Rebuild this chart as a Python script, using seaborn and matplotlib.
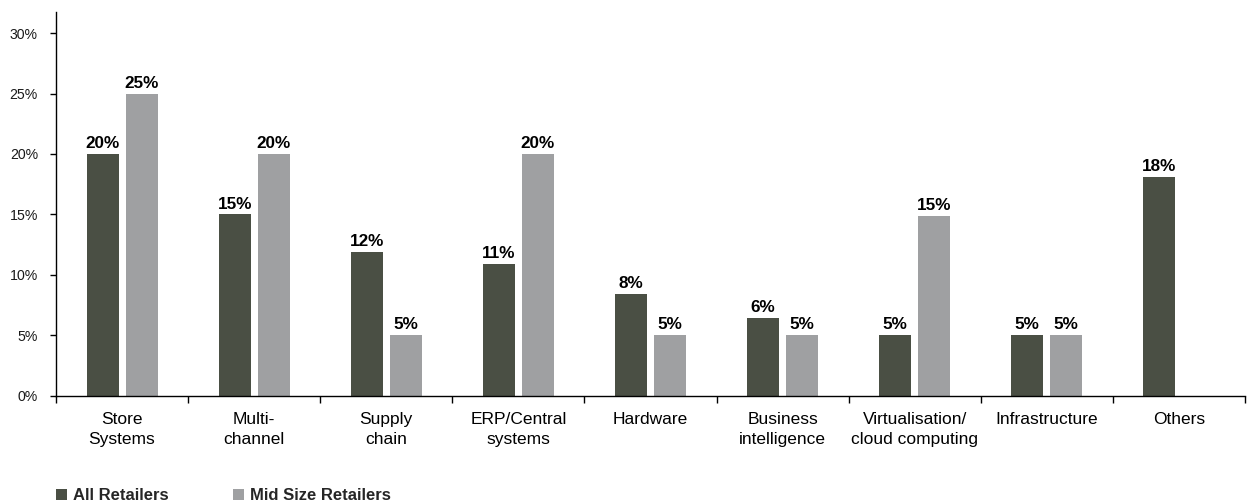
import numpy as np
import pandas as pd
import matplotlib
matplotlib.use("Agg")
import matplotlib.pyplot as plt
import seaborn as sns
from matplotlib.patches import Patch

categories = ["Store\nSystems", "Multi-\nchannel", "Supply\nchain", "ERP/Central\nsystems",
              "Hardware", "Business\nintelligence", "Virtualisation/\ncloud computing",
              "Infrastructure", "Others"]
all_retailers = [20, 15, 11.9, 10.9, 8.4, 6.4, 5, 5, 18.1]
mid_size = [25, 20, 5, 20, 5, 5, 14.9, 5, np.nan]
series_names = ["All Retailers", "Mid Size Retailers"]
colors = ["#4a4f44", "#9fa0a2"]
y_ticks = [0, 5, 10, 15, 20, 25, 30]

sns.set_style("white")
plt.rcParams["font.family"] = ["Liberation Sans", "DejaVu Sans"]

df = pd.DataFrame({
    "category": categories * 2,
    "value": all_retailers + mid_size,
    "series": [series_names[0]] * len(categories) + [series_names[1]] * len(categories),
}).dropna()

fig = plt.figure(figsize=(12.48, 5.03), dpi=100)
ax = fig.add_axes([56 / 1248, 107.5 / 503, (1245 - 56) / 1248, (395.5 - 12) / 503])

sns.barplot(data=df, x="category", y="value", hue="series", order=categories,
            hue_order=series_names, palette=colors, saturation=1, width=0.59, gap=0.18,
            errorbar=None, ax=ax, legend=False, linewidth=0)

for cont in ax.containers:
    ax.bar_label(cont, fmt=lambda v: f"{v:.0f}%", padding=2, fontsize=12.3,
                 fontweight="bold", color="black")

ax.set_ylim(0, (395.5 - 12) / 12.08)
ax.set_xlim(-0.5, len(categories) - 0.5)
ax.set_yticks(y_ticks)
ax.set_yticklabels([f"{t}%" for t in y_ticks], fontsize=10.2, color="#1a1a1a")
ax.tick_params(axis="y", length=4, width=1, color="black", pad=9, left=True)

ax.set_xticks(range(len(categories)))
ax.set_xticklabels(categories, fontsize=12.5, color="black", linespacing=1.42)
ax.tick_params(axis="x", which="major", length=0, pad=12)
ax.set_xticks(np.arange(-0.5, len(categories), 1.0), minor=True)
ax.tick_params(axis="x", which="minor", length=5, width=1, color="black", bottom=True)

ax.set_xlabel("")
ax.set_ylabel("")
for s in ["top", "right"]:
    ax.spines[s].set_visible(False)
for s in ["left", "bottom"]:
    ax.spines[s].set_color("black")
    ax.spines[s].set_linewidth(1)

handles = [Patch(facecolor=c, edgecolor="none") for c in colors]
fig.legend(handles, series_names, loc="center left", bbox_to_anchor=(56 / 1248, 7.5 / 503),
           ncol=2, frameon=False, prop={"weight": "bold", "size": 12},
           handlelength=0.65, handleheight=0.65, handletextpad=0.35, columnspacing=3.9,
           borderpad=0, borderaxespad=0)

fig.savefig("out.png", dpi=100)
